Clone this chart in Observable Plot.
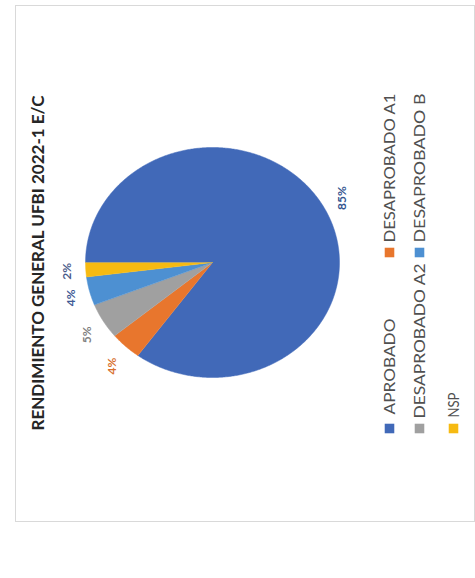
<!DOCTYPE html>
<html>
<head>
<meta charset="utf-8">
<script src="https://cdn.jsdelivr.net/npm/d3@7"></script>
<script src="https://cdn.jsdelivr.net/npm/@observablehq/plot@0.6"></script>
<style>
  html, body { margin: 0; padding: 0; background: #ffffff; }
</style>
</head>
<body>
<div id="chart"></div>
<script>
// ---- data ----
const title = "RENDIMIENTO GENERAL UFBI 2022-1 E/C";
const categories = ["APROBADO", "DESAPROBADO A1", "DESAPROBADO A2", "DESAPROBADO B", "NSP"];
const values = [85, 4, 5, 4, 2];
const percentLabels = ["85%", "4%", "5%", "4%", "2%"];
const colors = ["#4169B8", "#E8762D", "#A0A0A0", "#4D90D2", "#F6BA12"];
const labelColors = ["#34548F", "#D8712F", "#808080", "#3E5A95", "#4A5C8A"];

// ---- layout (the whole chart is rotated 90° counter-clockwise) ----
const W = 475, H = 578;
const pie = {cx: 212, cy: 262, rx: 127, ry: 115, gapX: 19, gapY: 27};
const legendX = [389, 389, 419, 419, 453];
const legendSquareY = [428, 252, 428, 252, 428];
const legendTextY = [414, 242, 418, 242, 417];
const textLengths = {
  [title]: 335, "APROBADO": 96, "DESAPROBADO A1": 149,
  "DESAPROBADO A2": 155, "DESAPROBADO B": 149, "NSP": 25
};

// pie geometry: starts at the left (rotated 12 o'clock), clockwise
const total = d3.sum(values);
const angle = f => Math.PI + 2 * Math.PI * f;
let acc = 0;
const slicePts = [];
const labelData = [];
categories.forEach((c, i) => {
  const f0 = acc / total;
  acc += values[i];
  const f1 = acc / total;
  slicePts.push({cat: c, color: colors[i], x: pie.cx, y: pie.cy});
  const n = Math.max(4, Math.ceil((f1 - f0) * 720));
  for (let k = 0; k <= n; k++) {
    const a = angle(f0 + (f1 - f0) * k / n);
    slicePts.push({cat: c, color: colors[i], x: pie.cx + pie.rx * Math.cos(a), y: pie.cy + pie.ry * Math.sin(a)});
  }
  const am = angle((f0 + f1) / 2);
  labelData.push({
    text: percentLabels[i], color: labelColors[i],
    x: pie.cx + Math.cos(am) * (pie.rx + pie.gapX),
    y: pie.cy + Math.sin(am) * (pie.ry + pie.gapY)
  });
});

const legendData = categories.map((c, i) => ({
  cat: c, color: colors[i], x: legendX[i], sy: legendSquareY[i], ty: legendTextY[i]
}));

const chart = Plot.plot({
  width: W, height: H,
  marginLeft: 15, marginTop: 5, marginRight: 1, marginBottom: 57,
  x: {domain: [15, W - 1], range: [15, W - 1], axis: null},
  y: {domain: [5, H - 57], range: [5, H - 57], axis: null},
  color: {type: "identity"},
  style: {fontFamily: "Lato, 'Open Sans', sans-serif", background: "#ffffff"},
  marks: [
    Plot.frame({stroke: "#d9d9d9"}),
    Plot.line(slicePts, {x: "x", y: "y", z: "cat", fill: "color", stroke: "color", strokeWidth: 0.5}),
    Plot.text(labelData, {x: "x", y: "y", text: "text", fill: "color", rotate: -90,
      fontSize: 12, fontWeight: "bold", textAnchor: "middle", lineAnchor: "middle"}),
    Plot.text([title], {x: () => 38, y: () => 430, text: d => d, rotate: -90,
      fontSize: 17.5, fontWeight: "bold", fill: "#262626", textAnchor: "start", lineAnchor: "middle"}),
    Plot.dot(legendData, {x: "x", y: "sy", symbol: "square", r: 5.4, fill: "color"}),
    Plot.text(legendData, {x: "x", y: "ty", text: "cat", rotate: -90, fontSize: 16,
      fill: "#505050", textAnchor: "start", lineAnchor: "middle"})
  ]
});

chart.querySelectorAll("text").forEach(t => {
  const L = textLengths[t.textContent];
  if (L) { t.setAttribute("textLength", L); t.setAttribute("lengthAdjust", "spacingAndGlyphs"); }
});

document.getElementById("chart").appendChild(chart);
</script>
</body>
</html>
